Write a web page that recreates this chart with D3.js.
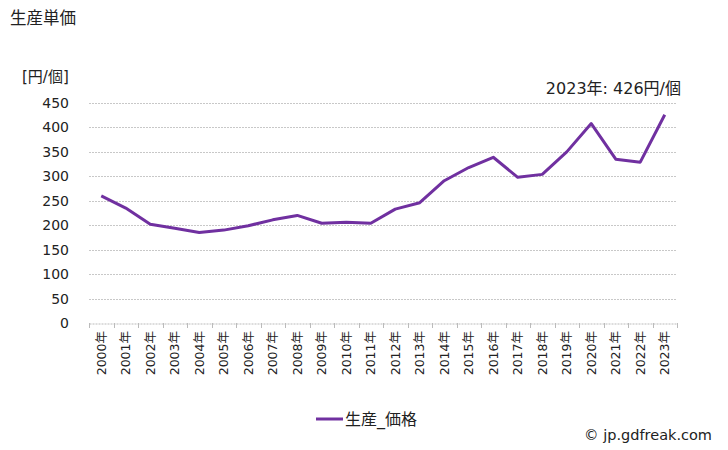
<!DOCTYPE html>
<html><head><meta charset="utf-8">
<script src="https://cdn.jsdelivr.net/npm/d3@7"></script>
<style>
body{margin:0;background:#fff;}
svg{font-family:"DejaVu Sans","Noto Sans CJK JP",sans-serif;}
</style></head>
<body><svg id="c" width="728" height="450"></svg>
<script>
const years = ["2000年","2001年","2002年","2003年","2004年","2005年","2006年","2007年","2008年","2009年","2010年","2011年","2012年","2013年","2014年","2015年","2016年","2017年","2018年","2019年","2020年","2021年","2022年","2023年"];
const prices = [260,235,202,194,185,190,199,211,220,204,206,204,233,246,291,318,339,298,304,350,408,335,329,426];
const yTicks = [0,50,100,150,200,250,300,350,400,450];
const title = "生産単価";
const unitLabel = "[円/個]";
const seriesName = "生産_価格";
const note = "2023年: 426円/個";
const credit = "© jp.gdfreak.com";

(function(){
const svg = d3.select("#c");
const pL = 89, pR = 677, pT = 103, pB = 323;
const x = d3.scaleBand().domain(years).range([pL, pR]);
const y = d3.scaleLinear().domain([0,450]).range([pB, pT]);
const color = "#7030A0";

svg.append("text").attr("x",10).attr("y",24).attr("font-size",16.5).attr("fill","#222").text(title);
svg.append("text").attr("x",22).attr("y",82).attr("font-size",15).attr("fill","#222").text(unitLabel);

// grid
svg.append("g").selectAll("line").data(yTicks.filter(d=>d>0)).join("line")
  .attr("x1",pL).attr("x2",pR).attr("y1",d=>Math.round(y(d))+0.5).attr("y2",d=>Math.round(y(d))+0.5)
  .attr("stroke","#c8c8c8").attr("stroke-width",1).attr("stroke-dasharray","2,1");

// y axis labels
svg.append("g").selectAll("text").data(yTicks).join("text")
  .attr("x",69).attr("y",d=>y(d)+5).attr("text-anchor","end").attr("font-size",14).attr("fill","#222").text(d=>d);

// x axis
const xa = svg.append("g").attr("transform",`translate(0,${pB+0.5})`)
  .call(d3.axisBottom(x).tickSize(0).tickFormat(""));
xa.select(".domain").attr("stroke","#bbb").attr("stroke-dasharray","2,1");
svg.append("g").selectAll("line").data(years.concat(["end"])).join("line")
  .attr("x1",(d,i)=>Math.round(pL + i*x.step())+0.5).attr("x2",(d,i)=>Math.round(pL + i*x.step())+0.5)
  .attr("y1",pB).attr("y2",pB+5).attr("stroke","#bbb");
svg.append("g").selectAll("text").data(years).join("text")
  .attr("transform",d=>`translate(${x(d)+x.bandwidth()/2+4.5},331) rotate(-90)`)
  .attr("text-anchor","end").attr("font-size",12.5).attr("fill","#222").text(d=>d);

// line
const line = d3.line().x((d,i)=>x(years[i])+x.bandwidth()/2).y(d=>y(d));
svg.append("path").datum(prices).attr("d",line).attr("fill","none")
  .attr("stroke",color).attr("stroke-width",3).attr("stroke-linejoin","round");

svg.append("text").attr("x",681).attr("y",94).attr("text-anchor","end").attr("font-size",16).attr("fill","#222").text(note);

// legend
svg.append("line").attr("x1",316).attr("x2",343).attr("y1",419).attr("y2",419).attr("stroke",color).attr("stroke-width",3);
svg.append("text").attr("x",345).attr("y",425).attr("font-size",16).attr("fill","#222").text(seriesName);
svg.append("text").attr("x",712).attr("y",440).attr("text-anchor","end").attr("font-size",14.5).attr("fill","#222").text(credit);
})();
</script></body></html>
